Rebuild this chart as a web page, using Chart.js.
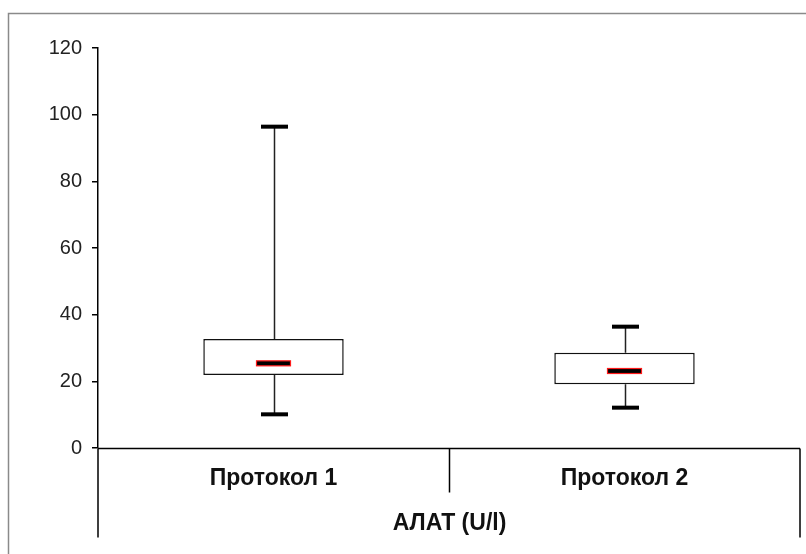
<!DOCTYPE html>
<html>
<head>
<meta charset="utf-8">
<script src="https://cdn.jsdelivr.net/npm/chart.js@4"></script>
<style>
  html, body { margin: 0; padding: 0; background: #fff; }
  #wrap { width: 806px; height: 554px; }
</style>
</head>
<body>
<div id="wrap"><canvas id="chart" width="806" height="554"></canvas></div>
<script>
// data
const categories = ["Протокол 1", "Протокол 2"];
const minVals = [10.1, 12.1];
const q1Vals = [21.9, 19.1];
const medianVals = [25.4, 23.1];
const q3Vals = [32.7, 28.6];
const maxVals = [96.4, 36.4];
const yTicks = [0, 20, 40, 60, 80, 100, 120];
const axisTitle = "АЛАТ (U/l)";

const boxPlot = {
  id: "boxPlot",
  beforeDraw(chart) {
    const ctx = chart.ctx;
    ctx.save();
    ctx.fillStyle = "#fff";
    ctx.fillRect(0, 0, chart.width, chart.height);
    // outer frame (right / bottom run off the picture)
    ctx.strokeStyle = "#8a8a8a";
    ctx.lineWidth = 1.5;
    ctx.strokeRect(8.5, 13.5, 1000, 1000);
    ctx.restore();
  },
  beforeDatasetsDraw(chart) {
    const { ctx, scales: { x, y } } = chart;
    ctx.save();
    ctx.strokeStyle = "#222";
    ctx.lineWidth = 1.5;
    categories.forEach((c, i) => {
      const cx = Math.round(x.getPixelForValue(i)) + 0.5;
      ctx.beginPath();
      ctx.moveTo(cx, y.getPixelForValue(maxVals[i]));
      ctx.lineTo(cx, y.getPixelForValue(q3Vals[i]));
      ctx.moveTo(cx, y.getPixelForValue(q1Vals[i]));
      ctx.lineTo(cx, y.getPixelForValue(minVals[i]));
      ctx.stroke();
      // caps
      ctx.fillStyle = "#000";
      [minVals[i], maxVals[i]].forEach(v => {
        const py = y.getPixelForValue(v);
        ctx.fillRect(cx - 13.5, py - 2, 27, 4);
      });
    });
    ctx.restore();
  },
  afterDatasetsDraw(chart) {
    const { ctx, scales: { x, y }, chartArea } = chart;
    ctx.save();
    // medians
    categories.forEach((c, i) => {
      const cx = x.getPixelForValue(i);
      const py = y.getPixelForValue(medianVals[i]);
      ctx.fillStyle = "#000";
      ctx.fillRect(cx - 17, py - 2.5, 34, 5);
      ctx.strokeStyle = "#ff1a1a";
      ctx.lineWidth = 1.2;
      ctx.strokeRect(cx - 17, py - 2.5, 34, 5);
    });
    // category axis
    const base = Math.round(y.getPixelForValue(0)) + 0.5;
    const left = chartArea.left, right = chartArea.right;
    const mid = Math.round((left + right) / 2) + 0.5;
    ctx.strokeStyle = "#000";
    ctx.lineWidth = 1.5;
    ctx.beginPath();
    ctx.moveTo(left, base); ctx.lineTo(right, base);
    ctx.moveTo(left, base); ctx.lineTo(left, base + 89);
    ctx.moveTo(right, base); ctx.lineTo(right, base + 89);
    ctx.moveTo(mid, base); ctx.lineTo(mid, base + 44);
    ctx.stroke();
    ctx.fillStyle = "#111";
    ctx.font = "bold 23px 'Liberation Sans', Arial, sans-serif";
    ctx.textAlign = "center";
    ctx.textBaseline = "middle";
    categories.forEach((c, i) => {
      ctx.fillText(c, x.getPixelForValue(i), base + 30);
    });
    ctx.fillText(axisTitle, mid, base + 75);
    ctx.restore();
  }
};

new Chart(document.getElementById("chart"), {
  type: "bar",
  data: {
    labels: categories,
    datasets: [{
      data: categories.map((c, i) => [q1Vals[i], q3Vals[i]]),
      backgroundColor: "#fff",
      borderColor: "#111",
      borderWidth: 1.5,
      borderSkipped: false,
      barPercentage: 1,
      categoryPercentage: 0.4
    }]
  },
  options: {
    responsive: false,
    animation: false,
    layout: { padding: { top: 48, bottom: 106, right: 6, left: 0 } },
    plugins: { legend: { display: false }, tooltip: { enabled: false } },
    scales: {
      x: { type: "category", display: false, offset: true },
      y: {
        min: 0,
        max: 120,
        afterBuildTicks(scale) { scale.ticks = yTicks.map(v => ({ value: v })); },
        afterFit(scale) { scale.width = 98; },
        ticks: {
          padding: 10,
          color: "#222",
          font: { family: "'Liberation Sans', Arial, sans-serif", size: 20 }
        },
        grid: { drawOnChartArea: false, drawTicks: true, tickLength: 6, color: "#000", lineWidth: 1.5 },
        border: { display: true, color: "#000", width: 1.5 }
      }
    }
  },
  plugins: [boxPlot]
});
</script>
</body>
</html>
